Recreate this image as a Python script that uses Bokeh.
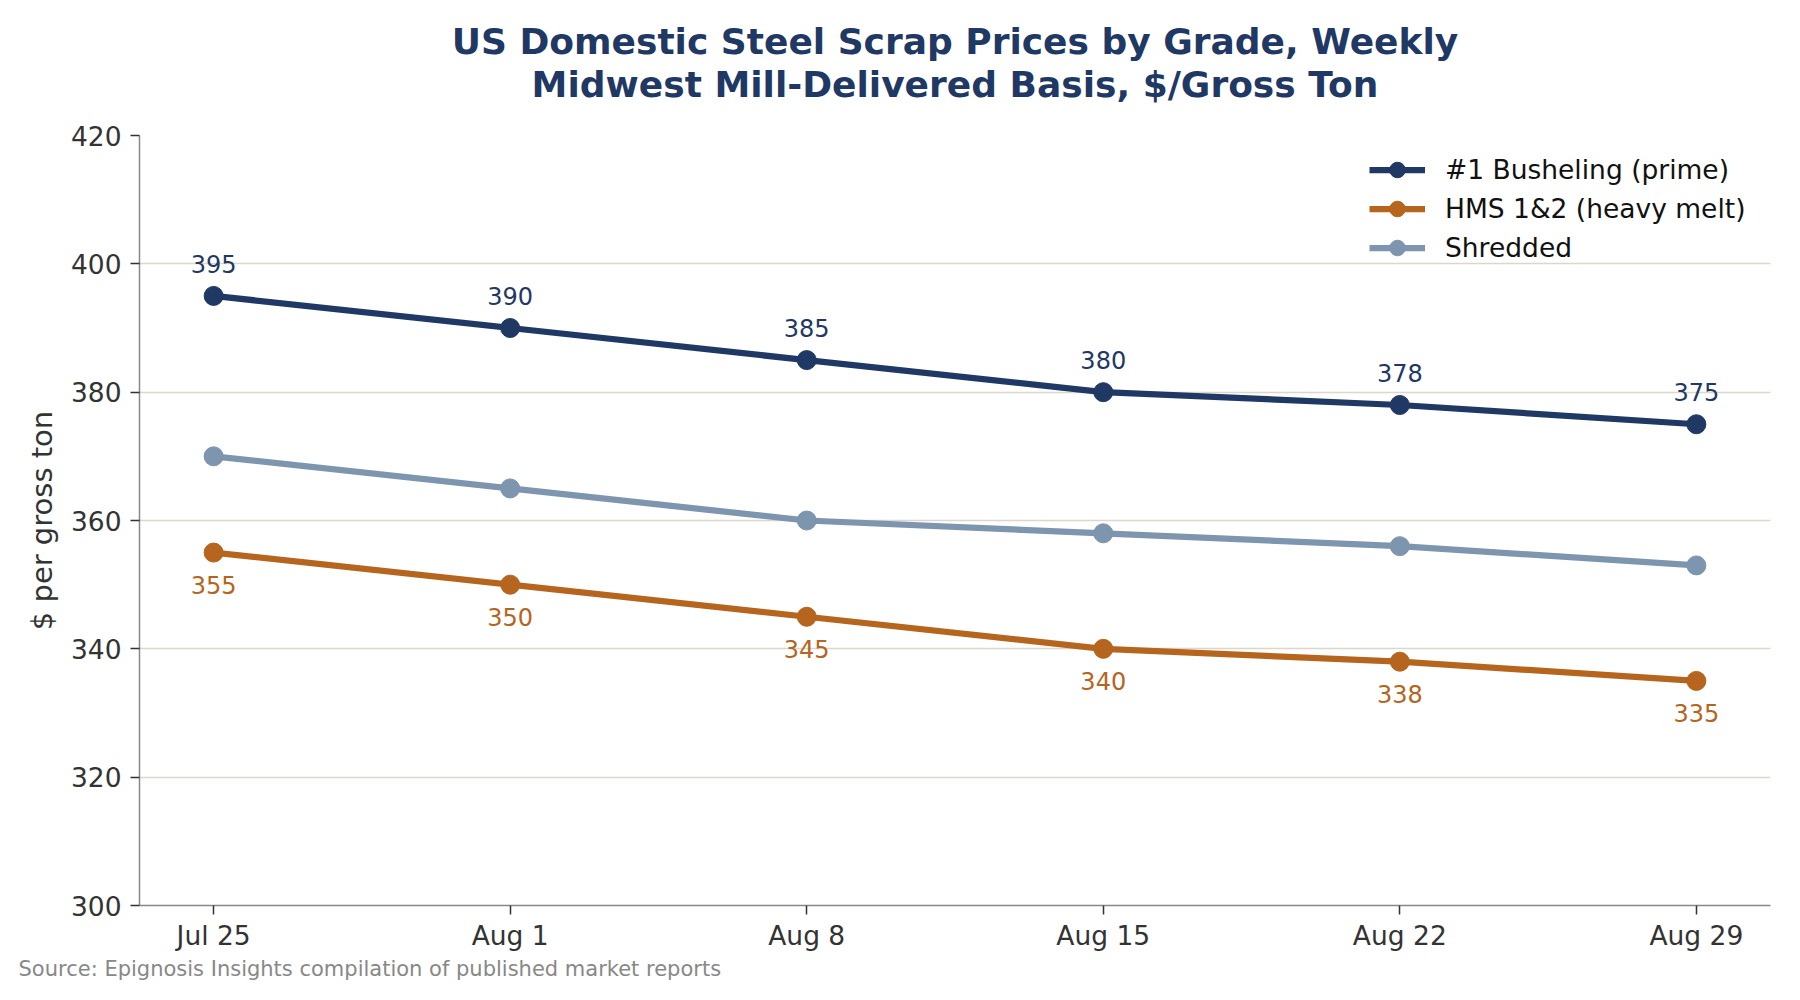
from bokeh.plotting import figure
from bokeh.models import FixedTicker, ColumnDataSource, Legend, Title
from bokeh.core.properties import value
from bokeh.embed import file_html
from bokeh.resources import INLINE

weeks = ["Jul 25", "Aug 1", "Aug 8", "Aug 15", "Aug 22", "Aug 29"]
busheling = [395, 390, 385, 380, 378, 375]
hms = [355, 350, 345, 340, 338, 335]
shredded = [370, 365, 360, 358, 356, 353]
y_ticks = [300, 320, 340, 360, 380, 400, 420]
title_lines = ["US Domestic Steel Scrap Prices by Grade, Weekly",
               "Midwest Mill-Delivered Basis, $/Gross Ton"]
source_note = "Source: Epignosis Insights compilation of published market reports"

NAVY = "#1f3864"
ORANGE = "#b5651d"
STEEL = "#7d95ae"
FONT = "DejaVu Sans"

xs = list(range(len(weeks)))

p = figure(width=1784, height=984, output_backend="svg", toolbar_location=None,
           x_range=(-0.25, len(weeks) - 0.75), y_range=(300, 420),
           min_border_left=139, min_border_right=14, min_border_top=135, min_border_bottom=79)

# title: outermost line 1, then line 2, then an invisible spacer next to the frame
p.title = Title(text=title_lines[0], align="center", text_font=FONT, text_font_size="36px",
                text_font_style="bold", text_color=NAVY, standoff=0)
p.add_layout(Title(text=" ", text_font_size="10px", standoff=18), "above")
p.add_layout(Title(text=title_lines[1], align="center", text_font=FONT, text_font_size="36px",
                   text_font_style="bold", text_color=NAVY, standoff=0), "above")

p.outline_line_color = None
p.background_fill_color = "white"
p.border_fill_color = "white"

p.xgrid.grid_line_color = None
p.ygrid.grid_line_color = "#ddd6cc"
p.ygrid.grid_line_width = 1.5
p.ygrid.ticker = FixedTicker(ticks=y_ticks)

p.xaxis.ticker = FixedTicker(ticks=xs)
p.xaxis.major_label_overrides = {i: w for i, w in zip(xs, weeks)}
p.yaxis.ticker = FixedTicker(ticks=y_ticks)
p.yaxis.axis_label = "$ per gross ton"

for ax in (p.xaxis[0], p.yaxis[0]):
    ax.axis_line_color = "#888888"
    ax.axis_line_width = 1.5
    ax.major_tick_line_color = "#333333"
    ax.major_tick_line_width = 1.5
    ax.major_tick_out = 9
    ax.major_tick_in = 0
    ax.minor_tick_line_color = None
    ax.major_label_text_font = FONT
    ax.major_label_text_font_size = "26.5px"
    ax.major_label_text_color = "#333333"
    ax.axis_label_text_font = FONT
    ax.axis_label_text_font_size = "29px"
    ax.axis_label_text_font_style = "normal"
    ax.axis_label_text_color = "#333333"
    ax.major_label_standoff = 9
p.xaxis.major_label_standoff = 5
p.yaxis.axis_label_standoff = 9

series = [("#1 Busheling (prime)", busheling, NAVY),
          ("HMS 1&2 (heavy melt)", hms, ORANGE),
          ("Shredded", shredded, STEEL)]

items = []
for name, vals, col in series:
    src = ColumnDataSource(dict(x=xs, y=vals))
    l = p.line("x", "y", source=src, line_color=col, line_width=6.25)
    s = p.scatter("x", "y", source=src, size=19, fill_color=col, line_color=col)
    items.append((name, [l, s]))

legend = Legend(items=items, location="top_right", border_line_color=None,
                background_fill_alpha=0, label_text_font=FONT, label_text_font_size="26.5px",
                label_text_color="#111111", glyph_width=56, glyph_height=39, label_height=39,
                label_width=310, spacing=0, label_standoff=20, margin=15, padding=0)
p.add_layout(legend)

lab_b = ColumnDataSource(dict(x=xs, y=busheling, t=[str(v) for v in busheling]))
p.text("x", "y", text="t", source=lab_b, text_align="center", text_baseline="middle",
       y_offset=-32, text_font=value(FONT), text_font_size="24px", text_color=NAVY)
lab_h = ColumnDataSource(dict(x=xs, y=hms, t=[str(v) for v in hms]))
p.text("x", "y", text="t", source=lab_h, text_align="center", text_baseline="middle",
       y_offset=32, text_font=value(FONT), text_font_size="24px", text_color=ORANGE)

p.add_layout(Title(text=source_note, align="left", offset=-121, text_font=FONT,
                   text_font_size="21px", text_font_style="normal", text_color="#888888",
                   standoff=3), "below")

open("out.html", "w").write(file_html(p, INLINE))
